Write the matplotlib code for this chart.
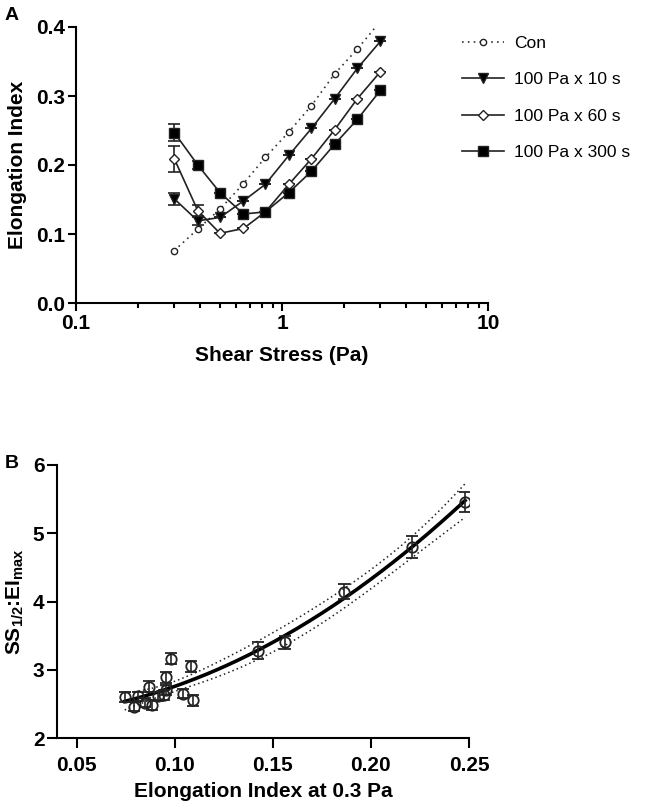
import numpy as np
import matplotlib
matplotlib.use("Agg")
import matplotlib.pyplot as plt

plt.rcParams['font.family'] = ['Liberation Sans', 'DejaVu Sans']
plt.rcParams['mathtext.fontset'] = 'custom'
plt.rcParams['mathtext.rm'] = 'Liberation Sans:bold'
plt.rcParams['mathtext.it'] = 'Liberation Sans:bold'
plt.rcParams['mathtext.bf'] = 'Liberation Sans:bold'
plt.rcParams['mathtext.default'] = 'rm'

# ---------------- Panel A data ----------------
shear = [0.30, 0.39, 0.50, 0.65, 0.83, 1.08, 1.39, 1.80, 2.32, 3.00]
ei_con = [0.076, 0.107, 0.136, 0.173, 0.211, 0.248, 0.286, 0.332, 0.368, 0.408]
ei_10s = [0.151, 0.119, 0.124, 0.148, 0.172, 0.214, 0.253, 0.296, 0.340, 0.379]
ei_60s = [0.209, 0.134, 0.101, 0.108, 0.132, 0.172, 0.209, 0.251, 0.296, 0.335]
ei_300s = [0.247, 0.200, 0.160, 0.129, 0.132, 0.160, 0.191, 0.230, 0.266, 0.308]
err_10s = [0.009, 0.006, 0, 0, 0, 0, 0, 0, 0, 0]
err_60s = [0.019, 0.008, 0, 0, 0, 0, 0, 0, 0, 0]
err_300s = [0.012, 0.006, 0, 0, 0, 0, 0, 0, 0, 0]
labels_a = ["Con", "100 Pa x 10 s", "100 Pa x 60 s", "100 Pa x 300 s"]

# ---------------- Panel B data ----------------
ei_03 = [0.0745, 0.0791, 0.0813, 0.0847, 0.0867, 0.0886, 0.0915, 0.0945, 0.0954,
         0.0957, 0.0983, 0.1042, 0.1085, 0.1093, 0.1425, 0.1561, 0.1862, 0.2208, 0.248]
ratio = [2.60, 2.46, 2.61, 2.52, 2.75, 2.48, 2.61, 2.63, 2.89,
         2.70, 3.16, 2.65, 3.05, 2.55, 3.28, 3.40, 4.14, 4.80, 5.46]
ratio_err = [0.07, 0.07, 0.07, 0.07, 0.08, 0.07, 0.07, 0.07, 0.08,
             0.07, 0.08, 0.07, 0.08, 0.08, 0.12, 0.10, 0.11, 0.16, 0.15]

W, H = 664, 811
fig = plt.figure(figsize=(W / 100, H / 100), dpi=100)

def style(ax, major_len, minor_len, xpad, ypad):
    for s in ['top', 'right']:
        ax.spines[s].set_visible(False)
    for s in ['left', 'bottom']:
        ax.spines[s].set_linewidth(1.5)
    ax.tick_params(which='major', length=major_len, width=1.5, labelsize=15)
    ax.tick_params(which='minor', length=minor_len, width=1.5)
    ax.tick_params(axis='x', which='major', pad=xpad)
    ax.tick_params(axis='y', which='major', pad=ypad)
    for t in ax.get_xticklabels() + ax.get_yticklabels():
        t.set_fontweight('bold')

# ---------------- Panel A ----------------
axA = fig.add_axes([76 / W, 1 - 303 / H, (488 - 76) / W, (303 - 27) / H])
axA.set_xscale('log')
axA.set_xlim(0.1, 10)
axA.set_ylim(0, 0.4)
h_con, = axA.plot(shear, ei_con, ls=(0, (1, 2.5)), lw=1.2, color='#333333',
                  marker='o', ms=4.5, mfc='white', mec='#222222', mew=1.0)
hA = [h_con]
for ys, es, mk, mf, ms in [(ei_10s, err_10s, 'v', 'black', 7),
                           (ei_60s, err_60s, 'D', 'white', 5.5),
                           (ei_300s, err_300s, 's', 'black', 7)]:
    axA.errorbar(shear, ys, yerr=es, fmt='none', ecolor='#222222', elinewidth=1.2,
                 capsize=4, capthick=1.2)
    h, = axA.plot(shear, ys, ls='-', lw=1.2, color='#222222', marker=mk, ms=ms,
                  mfc=mf, mec='#222222', mew=1.0)
    hA.append(h)
axA.set_yticks([0.0, 0.1, 0.2, 0.3, 0.4])
axA.set_yticklabels(['0.0', '0.1', '0.2', '0.3', '0.4'])
axA.set_xticks([0.1, 1, 10])
axA.set_xticklabels(['0.1', '1', '10'])
style(axA, 6, 3.6, 2, 2)
axA.set_xlabel('Shear Stress (Pa)', fontsize=15, fontweight='bold', labelpad=9)
axA.set_ylabel('Elongation Index', fontsize=15, fontweight='bold', labelpad=6)

fig.legend(hA, labels_a, loc='upper left', bbox_to_anchor=(455 / W, 1 - 29 / H),
           frameon=False, fontsize=12.5, handlelength=2.4, handletextpad=0.6,
           labelspacing=1.22, borderaxespad=0)

fig.text(5 / W, 1 - 16 / H, 'A', fontsize=14, fontweight='bold', va='center')

# ---------------- Panel B ----------------
axB = fig.add_axes([57 / W, 1 - 738 / H, (469 - 57) / W, (738 - 465) / H])
axB.set_xlim(0.04, 0.25)
axB.set_ylim(2, 6)

xb = np.array(ei_03)
yb = np.array(ratio)
coef = np.polyfit(xb, yb, 2)
xf = np.linspace(xb.min(), xb.max(), 200)
yf = np.polyval(coef, xf)
X = np.vstack([xb ** 2, xb, np.ones_like(xb)]).T
resid = yb - X @ coef
n, p = X.shape
s2 = np.sum(resid ** 2) / (n - p)
cov = np.linalg.inv(X.T @ X) * s2
Xf = np.vstack([xf ** 2, xf, np.ones_like(xf)]).T
se = np.sqrt(np.einsum('ij,jk,ik->i', Xf, cov, Xf))
tval = 1.7
axB.plot(xf, yf + tval * se, ls=(0, (1, 2)), lw=1.1, color='#222222')
axB.plot(xf, yf - tval * se, ls=(0, (1, 2)), lw=1.1, color='#222222')
axB.plot(xf, yf, ls='-', lw=2.6, color='black')
axB.errorbar(ei_03, ratio, yerr=ratio_err, fmt='o', ms=7.5, mfc='none', mec='#222222',
             mew=1.3, ecolor='#222222', elinewidth=1.2, capsize=4, capthick=1.2)
axB.set_xticks([0.05, 0.10, 0.15, 0.20, 0.25])
axB.set_xticklabels(['0.05', '0.10', '0.15', '0.20', '0.25'])
axB.set_yticks([2, 3, 4, 5, 6])
style(axB, 7, 3, 6, 2)
axB.set_xlabel('Elongation Index at 0.3 Pa', fontsize=15, fontweight='bold', labelpad=5)
axB.set_ylabel(r'SS$_{1/2}$:EI$_{max}$', fontsize=15, fontweight='bold', labelpad=5)

fig.text(5 / W, 1 - 464 / H, 'B', fontsize=14, fontweight='bold', va='center')

fig.savefig('out.png', dpi=100)
